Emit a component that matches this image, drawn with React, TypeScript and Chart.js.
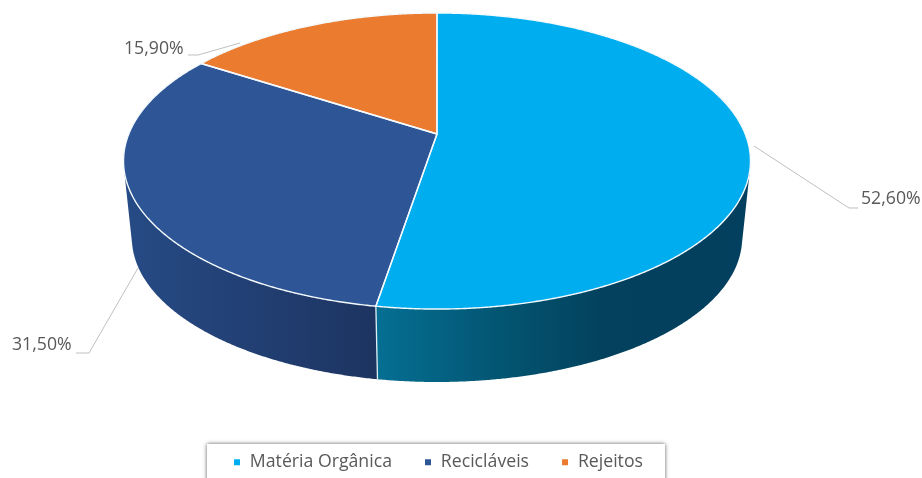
import React, { useEffect, useRef } from "react";
import { Chart, registerables } from "chart.js";

Chart.register(...registerables);

const categories = ["Matéria Orgânica", "Recicláveis", "Rejeitos"];
const shares = [52.6, 31.5, 15.9];
const sliceColors = ["#00ADEF", "#2E5596", "#EA7B2F"];

const FONT = '"Open Sans", sans-serif';
const FONT_SIZE = 17.7;
const TEXT = "#595959";

// Perspective view of the disc: a rim point is (sinθ, cosθ) with θ clockwise from 12 o'clock.
const TOP_FACE = { cx: 437, cy: 134, a: 308.2, b: 143.1 };
const BOTTOM_FACE = { cx: 437, cy: 211.7, a: 300, b: 139.2 };
const TILT = 0.1826;

const project = (face: typeof TOP_FACE, angle: number) => {
  const u = Math.cos(angle);
  const v = -Math.sin(angle);
  const w = 1 + TILT * v;
  return { x: face.cx + (face.a * u) / w, y: face.cy - (face.b * v) / w };
};

const rimPoints = (face: typeof TOP_FACE, start: number, end: number) => {
  const steps = Math.max(2, Math.ceil(Math.abs(end - start) / 0.005));
  const pts = [];
  for (let i = 0; i <= steps; i++) pts.push(project(face, start + ((end - start) * i) / steps));
  return pts;
};

const sideFill = (ctx: CanvasRenderingContext2D, index: number) => {
  if (index === 0) {
    const g = ctx.createLinearGradient(378, 0, 745, 0);
    g.addColorStop(0, "#056F93");
    g.addColorStop(0.35, "#035470");
    g.addColorStop(0.62, "#03415E");
    g.addColorStop(1, "#033F5E");
    return g;
  }
  if (index === 1) {
    const g = ctx.createLinearGradient(132, 0, 376, 0);
    g.addColorStop(0, "#264A84");
    g.addColorStop(1, "#1D3461");
    return g;
  }
  return "#A85A22";
};

// Leader polylines and text anchors for the value labels, in slice order.
const leaders = [
  { line: [[754, 146], [849, 208], [858, 208]], x: 861, y: 199 },
  { line: [[138, 268], [89, 353], [76, 353]], x: 12, y: 345 },
  { line: [[240, 43], [198, 55], [188, 55]], x: 124, y: 49 },
];

const pie3d = {
  id: "pie3d",
  beforeDraw(chart: any) {
    // Legend frame with its soft drop shadow.
    const { ctx } = chart;
    ctx.save();
    ctx.shadowColor = "rgba(0,0,0,0.65)";
    ctx.shadowBlur = 4;
    ctx.fillStyle = "#fff";
    ctx.fillRect(207, 444, 458, 60);
    ctx.restore();
  },
  beforeDatasetsDraw(chart: any) {
    const { ctx } = chart;
    const arcs = chart.getDatasetMeta(0).data;
    ctx.save();

    // Wall first: quads swept between the two rims, wound the same way and filled as one
    // path, so the silhouette stays tangent and no seams show between them.
    arcs.forEach((arc: any, i: number) => {
      const top = rimPoints(TOP_FACE, arc.startAngle, arc.endAngle);
      const bottom = rimPoints(BOTTOM_FACE, arc.startAngle, arc.endAngle);
      ctx.beginPath();
      for (let k = 0; k + 1 < top.length; k++) {
        const quad = [top[k], top[k + 1], bottom[k + 1], bottom[k]];
        let area = 0;
        quad.forEach((p, n) => {
          const q = quad[(n + 1) % 4];
          area += p.x * q.y - q.x * p.y;
        });
        if (area < 0) quad.reverse();
        quad.forEach((p, n) => (n ? ctx.lineTo(p.x, p.y) : ctx.moveTo(p.x, p.y)));
        ctx.closePath();
      }
      ctx.fillStyle = sideFill(ctx, i);
      ctx.fill("nonzero");
    });

    // Pale seam where the two visible wall sections meet.
    const seam = arcs[0].endAngle;
    const a = project(TOP_FACE, seam);
    const b = project(BOTTOM_FACE, seam);
    ctx.strokeStyle = "#DDEFF5";
    ctx.lineWidth = 1.3;
    ctx.beginPath();
    ctx.moveTo(a.x, a.y);
    ctx.lineTo(b.x, b.y);
    ctx.stroke();

    // Top face of every slice, outlined in white.
    arcs.forEach((arc: any, i: number) => {
      ctx.beginPath();
      ctx.moveTo(TOP_FACE.cx, TOP_FACE.cy);
      rimPoints(TOP_FACE, arc.startAngle, arc.endAngle).forEach((p) => ctx.lineTo(p.x, p.y));
      ctx.closePath();
      ctx.fillStyle = sliceColors[i];
      ctx.fill();
    });
    arcs.forEach((arc: any) => {
      ctx.beginPath();
      ctx.moveTo(TOP_FACE.cx, TOP_FACE.cy);
      rimPoints(TOP_FACE, arc.startAngle, arc.endAngle).forEach((p) => ctx.lineTo(p.x, p.y));
      ctx.closePath();
      ctx.strokeStyle = "#F4FAFD";
      ctx.lineWidth = 1.4;
      ctx.lineJoin = "round";
      ctx.stroke();
    });
    ctx.restore();
    return false;
  },
  afterDraw(chart: any) {
    const { ctx } = chart;
    ctx.save();
    ctx.strokeStyle = "#BFBFBF";
    ctx.lineWidth = 1;
    leaders.forEach(({ line }) => {
      ctx.beginPath();
      line.forEach(([x, y], k) => (k ? ctx.lineTo(x, y) : ctx.moveTo(x, y)));
      ctx.stroke();
    });
    ctx.fillStyle = TEXT;
    ctx.font = `${FONT_SIZE}px ${FONT}`;
    ctx.textBaseline = "middle";
    ctx.textAlign = "left";
    shares.forEach((v, i) => {
      ctx.fillText(`${v.toFixed(2).replace(".", ",")}%`, leaders[i].x, leaders[i].y);
    });
    ctx.restore();
  },
};

export default function App() {
  const ref = useRef<HTMLCanvasElement>(null);
  useEffect(() => {
    const chart = new Chart(ref.current!, {
      type: "pie",
      data: {
        labels: categories,
        datasets: [{ data: shares, backgroundColor: sliceColors, borderColor: "#fff" }],
      },
      options: {
        animation: false,
        responsive: false,
        layout: { padding: { right: 46, bottom: -3 } },
        plugins: {
          tooltip: { enabled: false },
          legend: {
            position: "bottom",
            labels: {
              boxWidth: 8,
              boxHeight: 8,
              padding: 32,
              color: TEXT,
              font: { family: FONT, size: FONT_SIZE },
            },
          },
        },
      },
      plugins: [pie3d],
    } as any);
    return () => chart.destroy();
  }, []);
  return (
    <div style={{ position: "fixed", left: 0, top: 0, width: 922, height: 478, background: "#fff" }}>
      <canvas ref={ref} width={922} height={478} style={{ display: "block" }} />
    </div>
  );
}
